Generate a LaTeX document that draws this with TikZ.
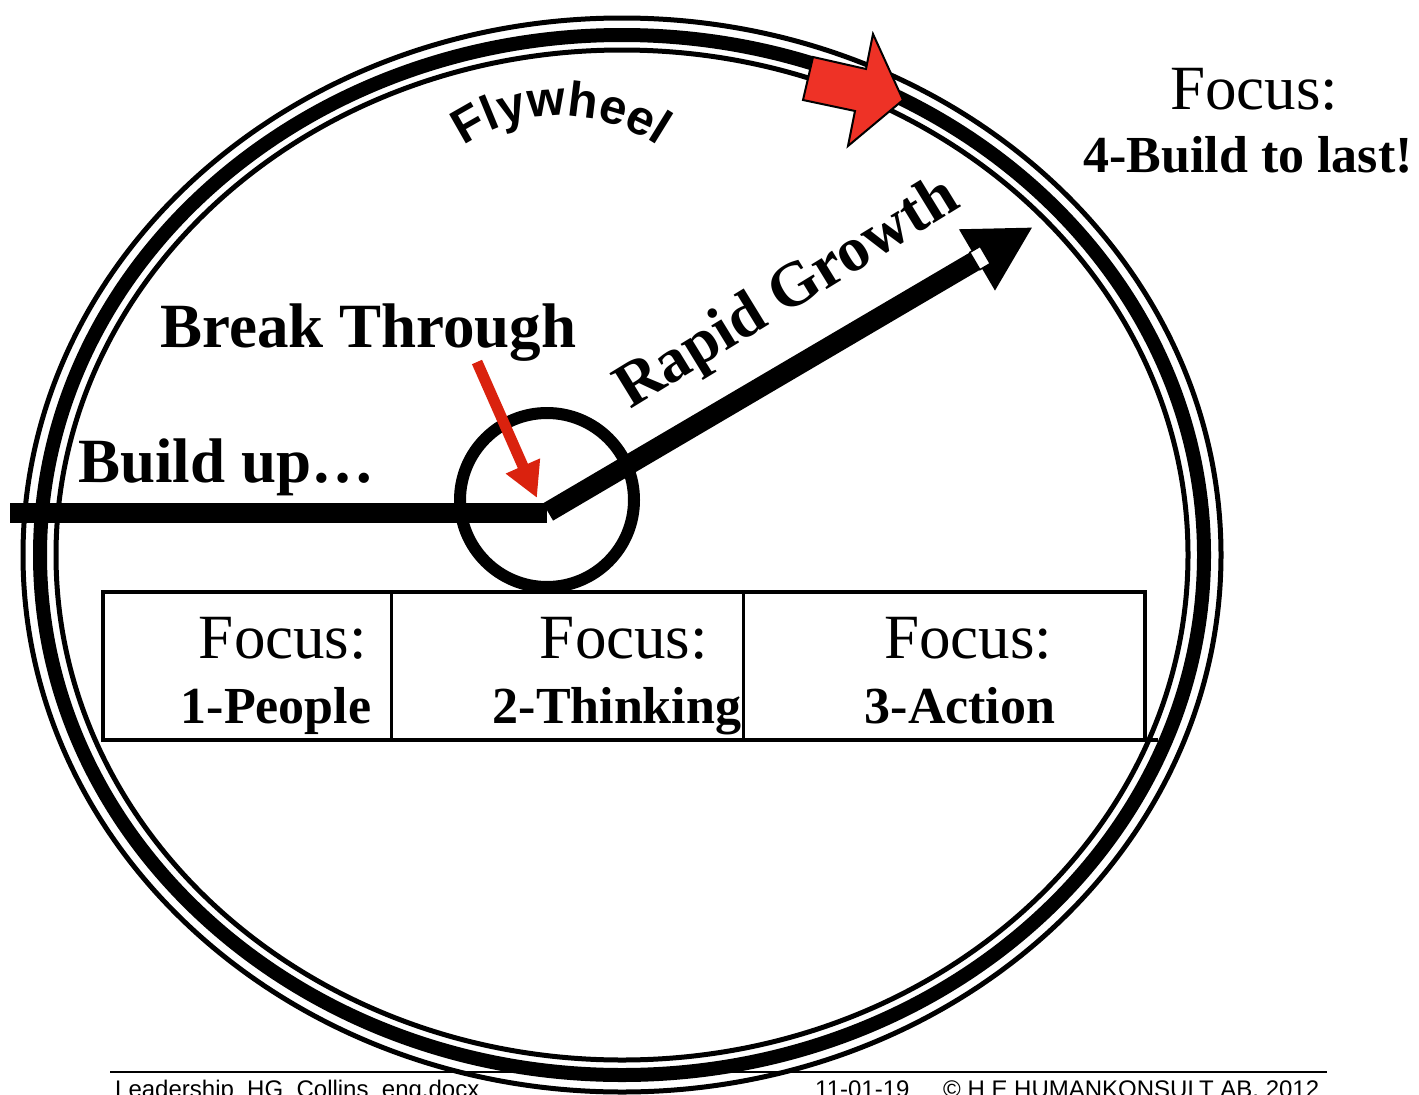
\documentclass[tikz,border=0pt]{standalone}
\usepackage{fontspec}
\setmainfont{Liberation Serif}
\newfontfamily\arialfont{Liberation Sans}
\usepackage{tikz}
\usepackage{xcolor}
\usetikzlibrary{arrows.meta,decorations.text}
\definecolor{flyred}{RGB}{238,50,38}
\definecolor{flydark}{RGB}{218,34,14}

\begin{document}
\begin{tikzpicture}[x=1pt, y=-1pt,
  ring/.style={draw, line width=5pt},
  bigring/.style={draw, line width=14pt},
  shaft/.style={line width=20pt},
  focus/.style={anchor=base, inner sep=0pt, font=\fontsize{63}{63}\selectfont},
  stage/.style={anchor=base, inner sep=0pt, font=\bfseries\fontsize{52}{52}\selectfont},
  heading/.style={anchor=base west, inner sep=0pt, font=\bfseries\fontsize{63}{63}\selectfont},
  foot/.style={anchor=base west, inner sep=0pt, font=\arialfont\fontsize{24}{24}\selectfont}]
\path[use as bounding box, fill=white] (0,0) rectangle (1419,1095);
\draw[line width=2pt] (110,1072) -- (1327,1072);
\draw[ring] (622,555) ellipse [x radius=599, y radius=537];
\draw[bigring] (622,555) ellipse [x radius=582, y radius=520];
\draw[ring] (622,555) ellipse [x radius=566, y radius=505];
\path[decorate, decoration={text along path, text align=center,
  text={|\arialfont\bfseries\fontsize{49}{49}\selectfont|Flywheel}}]
  (464,146) .. controls (522,106) and (598,106) .. (658,146);
\filldraw[fill=flyred, draw=black, line width=2pt] (813,57) -- (866,69) -- (873,34) -- (903,100) -- (848,146) -- (855,111) -- (803,100) -- cycle;
\node[focus] (f4) at (1254,109) {Focus:};
\node[stage] (s4) at (1248,172) {4-Build to last!};
\draw[line width=4pt] (103,592) rectangle (1145,740);
\draw[line width=4pt] (1145,740) -- (1158,740);
\draw[line width=3pt] (391,592) -- (391,740);
\draw[line width=3pt] (743,592) -- (743,740);
\node[focus] (f1) at (283,658) {Focus:};
\node[stage] (s1) at (276,723) {1-People};
\node[focus] (f2) at (624,658) {Focus:};
\node[stage] (s2) at (617,723) {2-Thinking};
\node[focus] (f3) at (968,658) {Focus:};
\node[stage] (s3) at (960,723) {3-Action};
\coordinate (start) at (10,513);
\coordinate (hub) at (547,513);
\coordinate (kink) at (548,512);
\coordinate (tip) at (1033,227);
\draw[shaft] (start) -- (hub);
\draw[shaft, -{Triangle[length=65pt,width=66pt]}] (kink) -- (tip);
\node[draw, fill=white, line width=1.5pt, minimum width=12pt, minimum height=20pt, inner sep=0pt, rotate=30.4] (notch) at (980,258) {};
\draw[line width=12pt] (547,500) circle [radius=87];
\draw[flydark, line width=11pt, -{Triangle[length=35pt,width=35pt]}] (477,362) -- (537,498);
\node[heading] (breakthrough) at (160,347) {Break Through};
\node[heading] (buildup) at (78,482) {Build up…};
\node[heading, rotate=31.5] (growth) at (630,410) {Rapid Growth};
\node[foot] (doc) at (115,1097) {Leadership\ \ HG\ \ Collins\ \ eng.docx};
\node[foot] (date) at (815,1097) {11-01-19};
\node[foot] (copy) at (943,1097) {© H E HUMANKONSULT AB. 2012};
\end{tikzpicture}
\end{document}
